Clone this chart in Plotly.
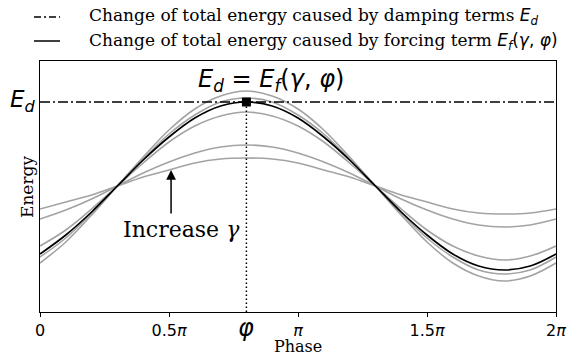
import plotly.graph_objects as go

# Phase in units of pi
phase = [0.0, 0.1, 0.2, 0.3, 0.4, 0.5, 0.6, 0.7, 0.8, 0.9, 1.0,
         1.1, 1.2, 1.3, 1.4, 1.5, 1.6, 1.7, 1.8, 1.9, 2.0]

# Energy change by forcing term for increasing gamma (gray curves)
gray_1 = [-0.23, -0.16, -0.09, 0, 0.09, 0.16, 0.23, 0.27, 0.28, 0.27, 0.23,
          0.16, 0.09, 0, -0.09, -0.16, -0.23, -0.27, -0.28, -0.27, -0.23]
gray_2 = [-0.33, -0.24, -0.13, 0, 0.13, 0.24, 0.33, 0.39, 0.41, 0.39, 0.33,
          0.24, 0.13, 0, -0.13, -0.24, -0.33, -0.39, -0.41, -0.39, -0.33]
gray_3 = [-0.60, -0.44, -0.23, 0, 0.23, 0.44, 0.60, 0.70, 0.74, 0.70, 0.60,
          0.44, 0.23, 0, -0.23, -0.44, -0.60, -0.70, -0.74, -0.70, -0.60]
gray_4 = [-0.71, -0.52, -0.27, 0, 0.27, 0.52, 0.71, 0.84, 0.88, 0.84, 0.71,
          0.52, 0.27, 0, -0.27, -0.52, -0.71, -0.84, -0.88, -0.84, -0.71]
gray_5 = [-0.77, -0.56, -0.29, 0, 0.29, 0.56, 0.77, 0.90, 0.95, 0.90, 0.77,
          0.56, 0.29, 0, -0.29, -0.56, -0.77, -0.90, -0.95, -0.90, -0.77]
# Black curve: forcing energy that balances damping
black = [-0.68, -0.49, -0.26, 0, 0.26, 0.49, 0.68, 0.80, 0.84, 0.80, 0.68,
         0.49, 0.26, 0, -0.26, -0.49, -0.68, -0.80, -0.84, -0.80, -0.68]

E_d = 0.84
phi = 0.8

tick_vals = [0, 0.5, 1.0, 1.5, 2.0]
tick_text = ["0", "0.5<i>\u03c0</i>", "<i>\u03c0</i>", "1.5<i>\u03c0</i>", "2<i>\u03c0</i>"]

GRAY = "#a3a3a3"
SANS = "DejaVu Sans"
SERIF = "DejaVu Serif"

fig = go.Figure()

for g in [gray_1, gray_2, gray_3, gray_4, gray_5]:
    fig.add_trace(go.Scatter(x=phase, y=g, mode="lines",
                             line=dict(color=GRAY, width=1.6, shape="spline"),
                             showlegend=False, hoverinfo="skip"))

fig.add_trace(go.Scatter(x=phase, y=black, mode="lines",
                         line=dict(color="black", width=1.7, shape="spline"),
                         showlegend=False))

# Damping energy level (dash-dot)
fig.add_trace(go.Scatter(x=[0, 2], y=[E_d, E_d], mode="lines",
                         line=dict(color="black", width=1.5, dash="10px,3px,2px,3px"),
                         showlegend=False))

# Vertical dotted line at phi
fig.add_trace(go.Scatter(x=[phi, phi], y=[-1.26, E_d], mode="lines",
                         line=dict(color="black", width=1.5, dash="1.5px,2.5px"),
                         showlegend=False))

# Square marker at intersection
fig.add_trace(go.Scatter(x=[phi], y=[E_d], mode="markers",
                         marker=dict(symbol="square", size=9, color="black"),
                         showlegend=False))

W, H = 569, 355
L, R, T, B = 40, 13, 61, 43
pw, ph = W - L - R, H - T - B


def px(x):
    return (x - L) / pw


def py(y):
    return (H - B - y) / ph


def m(s):
    return "<span style='font-family:DejaVu Sans'>" + s + "</span>"


annotations = [
    # legend texts
    dict(x=px(87), y=py(17), xref="paper", yref="paper", xanchor="left", yanchor="middle",
         text="Change of total energy caused by damping terms " + m("<i>E<sub>d</sub></i>"),
         showarrow=False, font=dict(family=SERIF, size=17, color="black")),
    dict(x=px(87), y=py(41), xref="paper", yref="paper", xanchor="left", yanchor="middle",
         text="Change of total energy caused by forcing term "
              + m("<i>E<sub>f</sub></i>(<i>\u03b3</i>, <i>\u03c6</i>)"),
         showarrow=False, font=dict(family=SERIF, size=17, color="black")),
    # E_d label
    dict(x=px(38), y=py(101), xref="paper", yref="paper", xanchor="right", yanchor="middle",
         text="<i>E<sub>d</sub></i>", showarrow=False,
         font=dict(family=SANS, size=23, color="black")),
    # equality label
    dict(x=px(271), y=py(80), xref="paper", yref="paper", xanchor="center", yanchor="middle",
         text="<i>E<sub>d</sub></i> = <i>E<sub>f</sub></i>(<i>\u03b3</i>, <i>\u03c6</i>)",
         showarrow=False, font=dict(family=SANS, size=24, color="black")),
    # phi tick label
    dict(x=phi, y=py(328), xref="x", yref="paper", xanchor="center", yanchor="middle",
         text="<i>\u03c6</i>", showarrow=False,
         font=dict(family=SANS, size=24, color="black")),
    # axis titles
    dict(x=px(298), y=py(347), xref="paper", yref="paper", xanchor="center", yanchor="middle",
         text="Phase", showarrow=False, font=dict(family=SERIF, size=16, color="black")),
    dict(x=px(27), y=py(187), xref="paper", yref="paper", xanchor="center", yanchor="middle",
         text="Energy", textangle=-90, showarrow=False,
         font=dict(family=SERIF, size=17, color="black")),
    # arrow and "Increase gamma"
    dict(x=0.508, y=0.16, ax=0.508, ay=-0.29, xref="x", yref="y", axref="x", ayref="y",
         text="", showarrow=True, arrowhead=2, arrowsize=1.3, arrowwidth=1.5,
         arrowcolor="black"),
    dict(x=0.55, y=-0.43, xref="x", yref="y", xanchor="center", yanchor="middle",
         text="Increase <i>\u03b3</i>", showarrow=False,
         font=dict(family=SERIF, size=22, color="black")),
]

shapes = [
    dict(type="line", xref="paper", yref="paper", x0=px(34), x1=px(60), y0=py(17), y1=py(17),
         line=dict(color="black", width=1.5, dash="7px,3px,2px,3px")),
    dict(type="line", xref="paper", yref="paper", x0=px(34), x1=px(60), y0=py(41), y1=py(41),
         line=dict(color="black", width=1.5)),
]

fig.update_layout(
    width=W, height=H,
    margin=dict(l=L, r=R, t=T, b=B, autoexpand=False),
    paper_bgcolor="white", plot_bgcolor="white",
    showlegend=False,
    annotations=annotations,
    shapes=shapes,
    xaxis=dict(range=[0, 2], tickvals=tick_vals, ticktext=tick_text, automargin=False,
               showgrid=False, zeroline=False, showline=True, mirror=True,
               linecolor="black", linewidth=1, ticks="outside", ticklen=4,
               tickcolor="black", tickfont=dict(family=SANS, size=16, color="black")),
    yaxis=dict(range=[-1.26, 1.25], showticklabels=False, showgrid=False, automargin=False,
               zeroline=False, showline=True, mirror=True, linecolor="black",
               linewidth=1, ticks=""),
)

fig.write_html("out.html")
